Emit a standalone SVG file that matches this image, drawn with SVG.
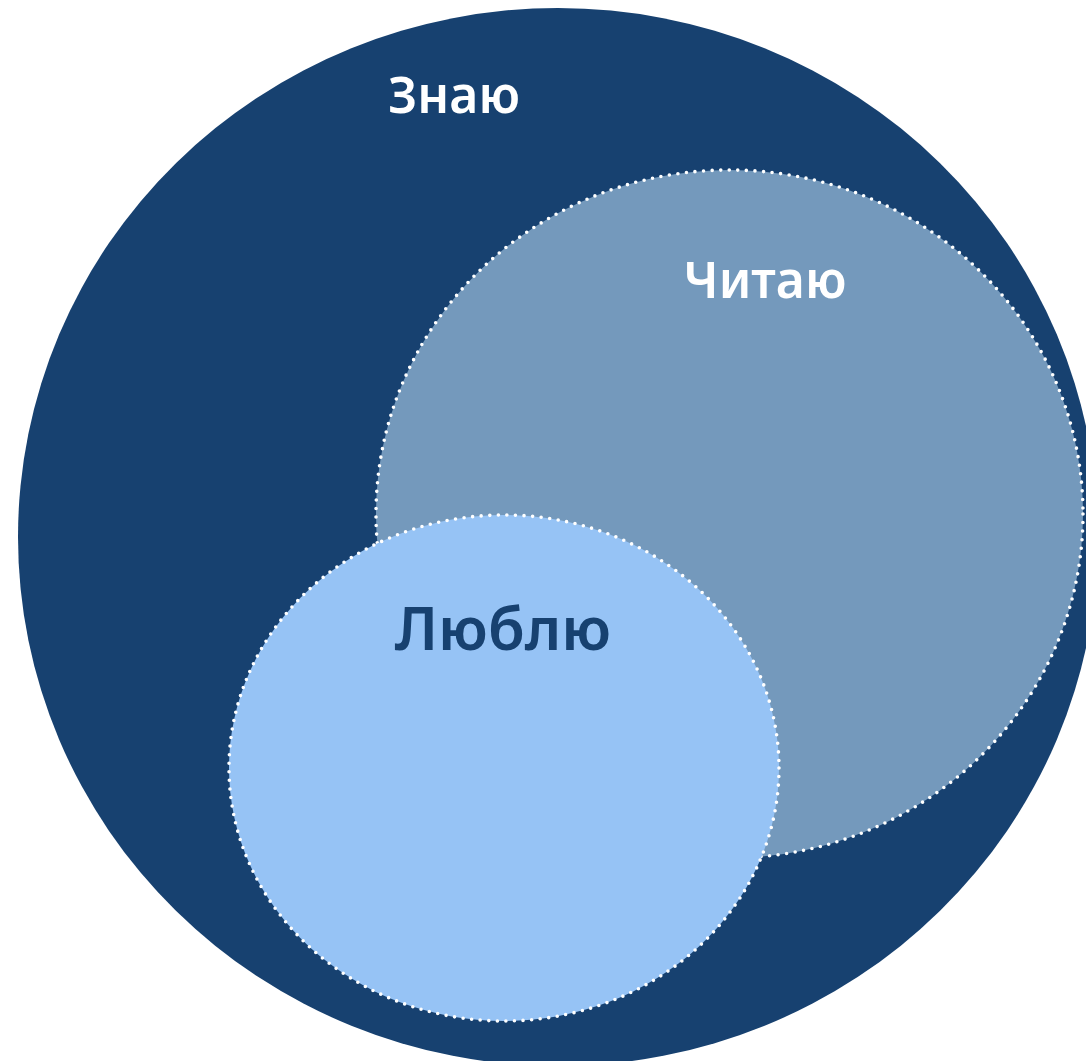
<svg xmlns="http://www.w3.org/2000/svg" width="1086" height="1061" viewBox="0 0 1086 1061">
<style>
.dots{stroke:#ffffff;stroke-width:3.6;stroke-dasharray:0 8.6;stroke-linecap:round}
.lbl{font-family:"Noto Sans","Open Sans","DejaVu Sans",sans-serif;font-weight:600;text-anchor:middle}
</style>
<rect width="1086" height="1061" fill="#ffffff"/>
<g id="znayu">
<ellipse cx="558" cy="537" rx="540" ry="529" fill="#174170"/>
<text class="lbl" x="454" y="113" font-size="50" fill="#ffffff">Знаю</text>
</g>
<g id="chitayu">
<ellipse class="dots" cx="729.5" cy="514" rx="353.5" ry="344" fill="#7499bc"/>
<text class="lbl" x="765" y="298" font-size="50" fill="#ffffff">Читаю</text>
</g>
<g id="lyublyu">
<ellipse class="dots" cx="504" cy="768" rx="275" ry="253" fill="#96c3f5"/>
<text class="lbl" x="503" y="650" font-size="60" fill="#174170">Люблю</text>
</g>
<g id="connectors"/>
</svg>
